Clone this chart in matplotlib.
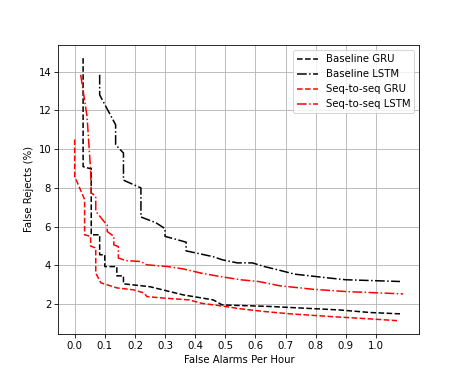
import matplotlib
matplotlib.use("Agg")
import matplotlib.pyplot as plt
import numpy as np

base_gru_x = [0.028, 0.028, 0.05, 0.055, 0.055, 0.083, 0.083, 0.10, 0.10, 0.14, 0.14, 0.162, 0.162,
              0.25, 0.36, 0.46, 0.49, 0.65, 0.88, 0.98, 1.08]
base_gru_y = [14.7, 9.1, 9.0, 9.0, 5.58, 5.58, 4.55, 4.55, 3.94, 3.94, 3.46, 3.46, 3.05,
              2.9, 2.48, 2.22, 1.96, 1.88, 1.7, 1.57, 1.5]

base_lstm_x = [0.083, 0.083, 0.136, 0.136, 0.162, 0.162, 0.22, 0.22, 0.27, 0.30, 0.30, 0.37, 0.37,
               0.46, 0.49, 0.54, 0.59, 0.63, 0.675, 0.73, 0.85, 0.90, 1.08]
base_lstm_y = [13.84, 12.8, 11.26, 10.23, 9.8, 8.4, 8.0, 6.5, 6.2, 5.9, 5.5, 5.2, 4.75,
               4.45, 4.29, 4.13, 4.13, 3.94, 3.77, 3.55, 3.34, 3.26, 3.17]

s2s_gru_x = [0.0, 0.0, 0.033, 0.033, 0.053, 0.053, 0.07, 0.07, 0.087, 0.14, 0.195, 0.23, 0.24,
             0.29, 0.38, 0.42, 0.50, 0.55, 0.63, 0.715, 0.85, 0.98, 1.07]
s2s_gru_y = [10.5, 8.6, 7.4, 5.58, 5.5, 5.0, 4.9, 3.6, 3.1, 2.84, 2.74, 2.58, 2.39,
             2.32, 2.22, 2.05, 1.88, 1.76, 1.62, 1.5, 1.36, 1.24, 1.15]

s2s_lstm_x = [0.02, 0.041, 0.053, 0.055, 0.07, 0.07, 0.097, 0.108, 0.108, 0.13, 0.13, 0.145, 0.145,
              0.17, 0.22, 0.24, 0.31, 0.36, 0.42, 0.47, 0.55, 0.61, 0.68, 0.79, 0.90, 1.09]
s2s_lstm_y = [13.84, 11.7, 8.9, 7.75, 7.56, 6.8, 6.27, 6.1, 5.75, 5.5, 5.06, 4.97, 4.38,
              4.25, 4.2, 4.03, 3.94, 3.82, 3.6, 3.46, 3.26, 3.17, 2.95, 2.77, 2.65, 2.53]

xticks = np.round(np.arange(0, 1.01, 0.1), 1)

DPI = 466 / 6.4
fig, ax = plt.subplots(figsize=(6.4, 375 / DPI), dpi=DPI)
ax.plot(base_gru_x, base_gru_y, 'k--', label='Baseline GRU')
ax.plot(base_lstm_x, base_lstm_y, 'k-.', label='Baseline LSTM')
ax.plot(s2s_gru_x, s2s_gru_y, 'r--', label='Seq-to-seq GRU')
ax.plot(s2s_lstm_x, s2s_lstm_y, 'r-.', label='Seq-to-seq LSTM')
ax.set_xticks(xticks)
ax.grid(True)
ax.set_xlabel('False Alarms Per Hour')
ax.set_ylabel('False Rejects (%)')
ax.legend(loc='upper right')
fig.savefig('out.png', dpi=DPI)
